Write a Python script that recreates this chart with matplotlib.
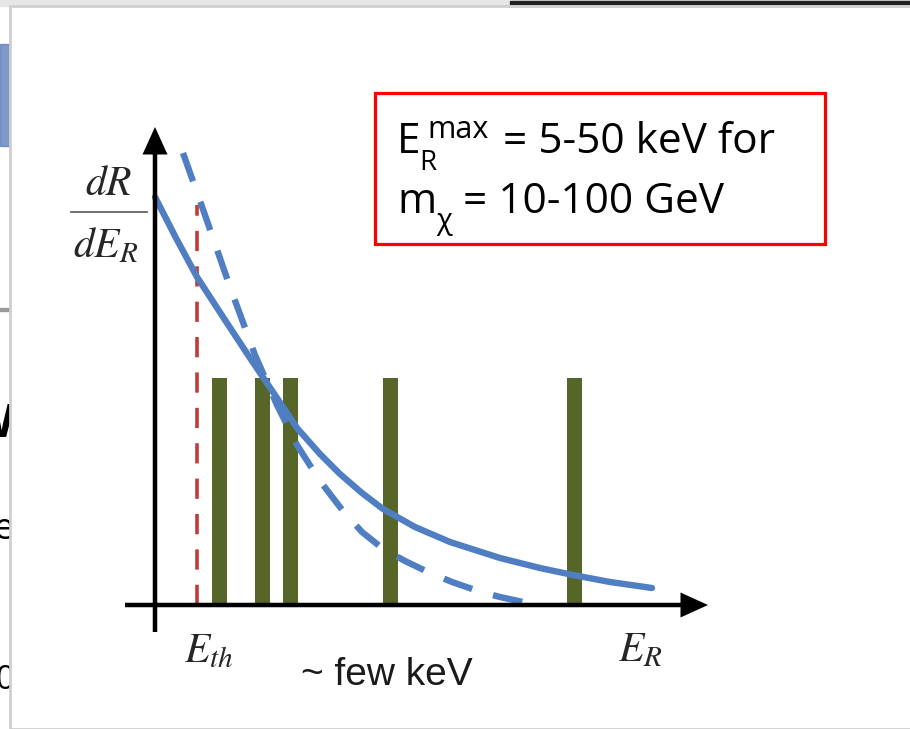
import matplotlib
matplotlib.use('Agg')
import matplotlib.pyplot as plt
from matplotlib.patches import Rectangle

# recoil spectra (arbitrary units)
solid_x = [0, 0.42, 0.84, 1.4, 1.9, 2.4, 2.84, 3.3, 3.7, 4.14, 4.56, 5.2, 5.9,
           6.9, 7.7, 8.36, 9.1, 9.94]
solid_y = [8.16, 7.34, 6.56, 5.7, 4.94, 4.2, 3.54, 3.02, 2.62, 2.24, 1.92, 1.56,
           1.26, 0.94, 0.74, 0.6, 0.46, 0.34]
dash_x = [0.56, 1.0, 1.5, 2.0, 2.44, 2.84, 3.3, 3.76, 4.14, 4.54, 5.0, 5.46,
          5.94, 6.46, 6.9, 7.36]
dash_y = [9.04, 7.8, 6.36, 5.0, 4.0, 3.2, 2.48, 1.88, 1.46, 1.14, 0.88, 0.66,
          0.46, 0.28, 0.16, 0.06]

e_thr = 0.84
thr_top = 8.0

event_x = [1.28, 2.14, 2.7, 4.7, 8.38]
event_h = [4.54, 4.54, 4.54, 4.54, 4.54]

blue = '#4F7FC2'
olive = '#556628'
red = '#C23A3A'

fig = plt.figure(figsize=(9.1, 7.29), dpi=100, facecolor='white')

# bits of the slide behind the pop-up panel
fig.patches.append(Rectangle((0, 0.992), 1, 0.008, transform=fig.transFigure,
                             color='#e6e6e6', zorder=0))
fig.patches.append(Rectangle((0, 0.80), 0.012, 0.14, transform=fig.transFigure,
                             color='#5f80bd', alpha=0.8, zorder=0))
fig.patches.append(Rectangle((0, 0.574), 0.012, 0.003, transform=fig.transFigure,
                             color='#999999', zorder=0))
fig.patches.append(Rectangle((0.56, 0.994), 0.44, 0.004, transform=fig.transFigure,
                             color='#222222', zorder=0))
for txt, yy, sz, wt in [('W', 0.40, 34, 'bold'), ('e', 0.26, 26, 'normal'),
                        ('0', 0.055, 24, 'normal')]:
    fig.text(0.016, yy, txt, ha='right', va='baseline', fontsize=sz,
             fontweight=wt, family='Open Sans', color='black', zorder=1)
fig.patches.append(Rectangle((0.0105, 0), 1, 0.9915, transform=fig.transFigure,
                             facecolor='white', edgecolor='#cfcfcf', lw=2, zorder=2))

ax = fig.add_axes([0, 0, 1, 1])
ax.set_zorder(3)
ax.patch.set_alpha(0)
ax.set_xlim(-3.1, 15.1)
ax.set_ylim(-2.48, 12.1)
ax.axis('off')

# events
ax.bar(event_x, event_h, width=0.3, color=olive, zorder=2)

# threshold
ax.plot([e_thr, e_thr], [0, thr_top], color=red, lw=2.6,
        ls=(0, (5.6, 4.2)), zorder=3)

# spectra
ax.plot(dash_x, dash_y, color=blue, lw=4.6, ls=(0, (4.7, 3.4)), zorder=4)
ax.plot(solid_x, solid_y, color=blue, lw=4.6, solid_capstyle='round',
        solid_joinstyle='round', zorder=4)

# axes arrows
ax.arrow(-0.6, 0, 11.66, 0, width=0.09, head_width=0.5, head_length=0.55,
         length_includes_head=True, fc='black', ec='none', zorder=5)
ax.arrow(0, -0.54, 0, 10.1, width=0.09, head_width=0.5, head_length=0.55,
         length_includes_head=True, fc='black', ec='none', zorder=5)

# axis labels
lab = '#262626'
ax.text(-0.92, 8.2, r'$dR$', math_fontfamily='stix', fontsize=30,
        ha='center', va='baseline', color=lab)
ax.plot([-1.68, -0.16], [7.86, 7.86], color='#555555', lw=1.2)
ax.text(-0.98, 6.96, r'$dE_R$', math_fontfamily='stix', fontsize=30,
        ha='center', va='baseline', color=lab)
ax.text(1.08, -1.14, r'$E_{th}$', math_fontfamily='stix', fontsize=30,
        ha='center', va='baseline', color=lab)
ax.text(9.7, -1.12, r'$E_R$', math_fontfamily='stix', fontsize=30,
        ha='center', va='baseline', color=lab)
ax.text(4.64, -1.6, '~ few keV', family='Liberation Sans', fontsize=28,
        ha='center', va='baseline', color='#1a1a1a')

# red box with the two-line note
ax.add_patch(Rectangle((4.4, 7.22), 9.0, 3.02, fill=False, ec='#ff0000', lw=2.3))
big = dict(family='Open Sans', fontsize=30.5, va='baseline', color='black')
small = dict(family='Open Sans', fontsize=20, va='baseline', color='black')
ax.text(4.84, 9.04, 'E', **big)
ax.text(5.28, 8.70, 'R', **small)
ax.text(5.44, 9.34, 'max', family='Open Sans', fontsize=22, va='baseline',
        color='black')
ax.text(6.96, 9.04, '= 5-50 keV for', **big)
ax.text(4.84, 7.84, 'm', **big)
ax.text(5.63, 7.52, 'χ', family='Open Sans', fontsize=21, va='baseline',
        color='black')
ax.text(6.16, 7.84, '= 10-100 GeV', **big)

fig.savefig('out.png', dpi=100, facecolor=fig.get_facecolor())
